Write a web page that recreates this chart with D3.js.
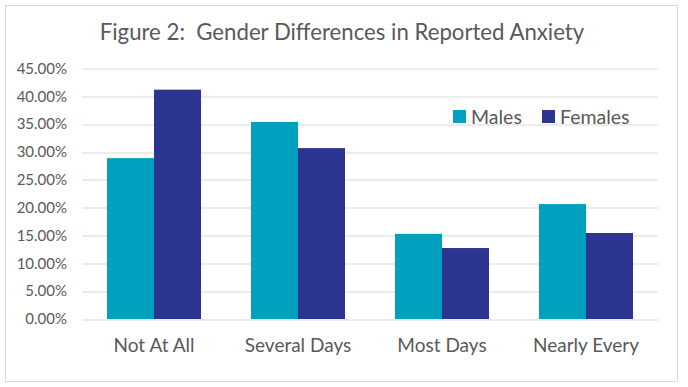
<!DOCTYPE html>
<html>
<head>
<meta charset="utf-8">
<script src="https://cdn.jsdelivr.net/npm/d3@7"></script>
<style>
  body { margin: 0; background: #fff; }
  svg { font-family: Lato, "Open Sans", sans-serif; }
</style>
</head>
<body>
<svg id="chart" width="688" height="387"></svg>
<script>
// data
var categories = ["Not At All", "Several Days", "Most Days", "Nearly Every"];
var series = ["Males", "Females"];
var males = [28.9, 35.4, 15.3, 20.65];
var females = [41.2, 30.7, 12.75, 15.45];
var yTicks = [0, 5, 10, 15, 20, 25, 30, 35, 40, 45];

var colors = { Males: "#00A0BE", Females: "#2C3590" };
var values = { Males: males, Females: females };

var svg = d3.select("#chart");
var margin = { left: 82, right: 30, top: 68.5, bottom: 68 };
var width = 688 - margin.left - margin.right;
var height = 387 - margin.top - margin.bottom;

// chart border
svg.append("rect")
  .attr("x", 5.5).attr("y", 5.5)
  .attr("width", 672).attr("height", 376)
  .attr("fill", "#fff")
  .attr("stroke", "#d9d9d9");

svg.append("text")
  .attr("x", 342).attr("y", 40)
  .attr("text-anchor", "middle")
  .attr("font-size", 22.2)
  .attr("fill", "#595959")
  .style("white-space", "pre")
  .text("Figure 2:  Gender Differences in Reported Anxiety");

var g = svg.append("g").attr("transform", "translate(" + margin.left + "," + margin.top + ")");

var x0 = d3.scaleBand()
  .domain(categories)
  .range([0, width])
  .paddingInner(0.347)
  .paddingOuter(0.1736);

var x1 = d3.scaleBand()
  .domain(series)
  .range([0, x0.bandwidth()]);

var y = d3.scaleLinear().domain([0, 45]).range([height, 0]);

// gridlines
g.append("g")
  .selectAll("line")
  .data(yTicks)
  .join("line")
  .attr("x1", 0).attr("x2", width)
  .attr("y1", d => Math.round(y(d)) + 0.5)
  .attr("y2", d => Math.round(y(d)) + 0.5)
  .attr("stroke", "#d9d9d9");

// y axis labels
var yAxis = d3.axisLeft(y)
  .tickValues(yTicks)
  .tickFormat(d => d.toFixed(2) + "%")
  .tickSize(0)
  .tickPadding(15);

g.append("g").call(yAxis)
  .call(a => a.select(".domain").remove())
  .selectAll("text")
  .attr("font-family", "Lato, 'Open Sans', sans-serif")
  .attr("font-size", 15)
  .attr("fill", "#595959");

// bars
var groups = g.append("g")
  .selectAll("g")
  .data(categories)
  .join("g")
  .attr("transform", d => "translate(" + x0(d) + ",0)");

groups.selectAll("rect")
  .data((d, i) => series.map(s => ({ key: s, value: values[s][i] })))
  .join("rect")
  .attr("x", d => x1(d.key))
  .attr("y", d => y(d.value))
  .attr("width", x1.bandwidth())
  .attr("height", d => height - y(d.value))
  .attr("fill", d => colors[d.key]);

// category labels
var xAxis = d3.axisBottom(x0).tickSize(0).tickPadding(20);
g.append("g")
  .attr("transform", "translate(0," + height + ")")
  .call(xAxis)
  .call(a => a.select(".domain").remove())
  .selectAll("text")
  .attr("font-family", "Lato, 'Open Sans', sans-serif")
  .attr("font-size", 19)
  .attr("fill", "#595959");

// legend
var legendX = [453, 542];
var legend = svg.append("g")
  .selectAll("g")
  .data(series)
  .join("g")
  .attr("transform", (d, i) => "translate(" + legendX[i] + ",110)");

legend.append("rect")
  .attr("width", 13).attr("height", 13)
  .attr("fill", d => colors[d]);

legend.append("text")
  .attr("x", 18).attr("y", 13.5)
  .attr("font-size", 19.5)
  .attr("fill", "#595959")
  .text(d => d);
</script>
</body>
</html>
